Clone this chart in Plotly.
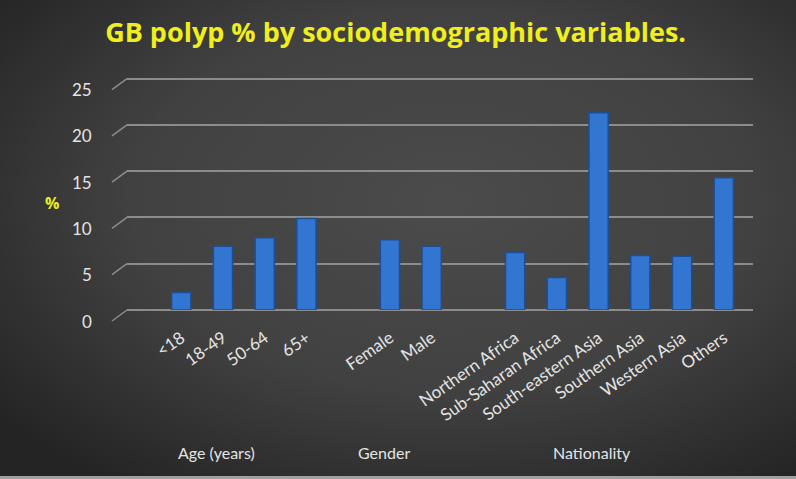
import base64
import plotly.graph_objects as go

# ---- data ----
categories = ["<18", "18-49", "50-64", "65+",
              "Female", "Male",
              "Northern Africa", "Sub-Saharan Africa", "South-eastern Asia",
              "Southern Asia", "Western Asia", "Others"]
groups = ["Age (years)", "Age (years)", "Age (years)", "Age (years)",
          "Gender", "Gender",
          "Nationality", "Nationality", "Nationality",
          "Nationality", "Nationality", "Nationality"]
values = [1.9, 6.9, 7.8, 9.9, 7.6, 6.9, 6.2, 3.5, 21.3, 5.9, 5.8, 14.3]
group_names = ["Age (years)", "Gender", "Nationality"]
y_ticks = [0, 5, 10, 15, 20, 25]

# positions: one empty slot between groups
xpos = []
pos = 0
prev = None
for g in groups:
    if prev is not None and g != prev:
        pos += 1
    xpos.append(pos)
    pos += 1
    prev = g

W, H = 796, 479
YMAX = 25.5
ml, mr, mt, mb = 127, 43, 74, 169
pw = W - ml - mr
ph = H - mt - mb
XMIN, XMAX = -1.3, 13.7

svg = f'''<svg xmlns="http://www.w3.org/2000/svg" width="{W}" height="{H}" viewBox="0 0 {W} {H}" preserveAspectRatio="none">
<defs><radialGradient id="g" cx="0.56" cy="0.42" r="0.72" fx="0.56" fy="0.42">
<stop offset="0" stop-color="#4b4b4b"/><stop offset="0.55" stop-color="#414141"/><stop offset="1" stop-color="#242424"/>
</radialGradient></defs><rect width="{W}" height="{H}" fill="url(#g)"/>
<rect y="{H-3}" width="{W}" height="3" fill="#a0a0a0"/></svg>'''
src = "data:image/svg+xml;base64," + base64.b64encode(svg.encode()).decode()

FONT = "Lato, Open Sans, sans-serif"
TXT = "#e4e4e4"
GRID = "#8c8c8c"

fig = go.Figure()
fig.add_trace(go.Bar(
    x=xpos, y=values, width=0.46,
    marker=dict(color="#3276d2", line=dict(color="#1d4f96", width=1.5)),
    hovertext=categories, showlegend=False,
))

annotations = []
# group labels under groups
for gname in group_names:
    xs = [xp for xp, g in zip(xpos, groups) if g == gname]
    annotations.append(dict(
        x=(min(xs) + max(xs)) / 2, xref="x", xshift=-27, y=-0.615 * 231 / ph, yref="paper",
        text=gname, showarrow=False, yanchor="middle",
        font=dict(family=FONT, size=16, color=TXT),
    ))
# y tick labels (offset downward like the 3D front edge)
for v in y_ticks:
    annotations.append(dict(
        x=0, xref="paper", y=v, yref="y", xanchor="right", yanchor="middle",
        xshift=-33, yshift=-11, text=str(v), showarrow=False,
        font=dict(family=FONT, size=17, color=TXT),
    ))
# y-axis title
annotations.append(dict(
    x=0, xref="paper", xshift=-75, y=(310 - 203) / ph, yref="paper",
    text="<b>%</b>", showarrow=False, xanchor="center", yanchor="middle",
    font=dict(family="Open Sans, sans-serif", size=16, color="#f0ee1e"),
))

# small slanted stubs at left ends of gridlines (3D look)
shapes = []
for v in y_ticks:
    shapes.append(dict(
        type="line", xref="paper", yref="paper",
        xsizemode="pixel", xanchor=0, x0=-15, x1=0,
        ysizemode="pixel", yanchor=v / YMAX, y0=-11, y1=0,
        line=dict(color=GRID, width=1.5), layer="above",
    ))

fig.update_layout(
    width=W, height=H,
    margin=dict(l=ml, r=mr, t=mt, b=mb),
    paper_bgcolor="#3e3e3e", plot_bgcolor="rgba(0,0,0,0)",
    images=[dict(source=src, xref="paper", yref="paper",
                 x=-ml / pw, y=1 + mt / ph, sizex=W / pw, sizey=H / ph,
                 xanchor="left", yanchor="top", sizing="stretch", layer="below")],
    title=dict(text="<b>GB polyp % by sociodemographic variables.</b>",
               x=0.497, xanchor="center", xref="container", y=1 - 33 / H, yanchor="middle",
               font=dict(family="Open Sans, sans-serif", size=27, color="#f0ee1e")),
    xaxis=dict(range=[XMIN, XMAX], tickvals=xpos, ticktext=categories,
               tickangle=-35, showgrid=False, zeroline=False, showline=False,
               ticks="", ticklabelstandoff=14,
               tickfont=dict(family=FONT, size=17, color=TXT)),
    yaxis=dict(range=[0, YMAX], tickvals=y_ticks, showgrid=True, gridcolor=GRID,
               gridwidth=1.5, zeroline=True, zerolinecolor=GRID, zerolinewidth=1.5,
               showline=False, ticks="", showticklabels=False),
    annotations=annotations,
    shapes=shapes,
)

fig.write_html("out.html", config={"displayModeBar": False},
               post_script="document.body.style.margin='0';document.body.style.background='#3e3e3e';")
